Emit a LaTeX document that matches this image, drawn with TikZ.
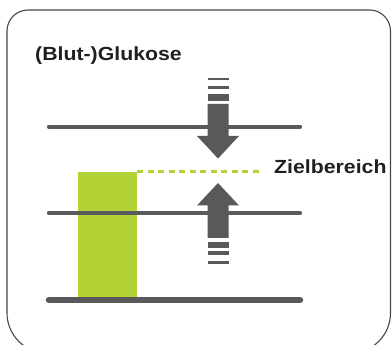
\documentclass[tikz,border=0pt]{standalone}
\usepackage{fontspec}
\setmainfont{Liberation Sans}
\usepackage{tikz}
\definecolor{slate}{HTML}{58595B}
\definecolor{lime}{HTML}{B2D235}
\definecolor{ink}{HTML}{231F20}
\newcommand{\wide}[1]{\scalebox{1.12}[1]{#1}}

\begin{document}
\begin{tikzpicture}[x=1pt,y=-1pt]
  \tikzstyle{frame}=[draw=slate!80!black,line width=1.1pt]
  \tikzstyle{levelline}=[draw=slate,line width=4.2pt,line cap=round]
  \tikzstyle{heading}=[font=\fontsize{19}{21}\selectfont\bfseries,text=ink,inner sep=0pt]
  \tikzstyle{targetline}=[draw=lime,line width=3pt,dash pattern=on 6pt off 4.5pt]
  \useasboundingbox (0,0) rectangle (392,345);
  \clip (0,0) rectangle (392,345);
  % frame: tighter corners on top, wider ones at the bottom
  \draw[frame] (7,200) [rounded corners=21pt] -- (7,10) -- (390.5,10) -- (390.5,200)
    [rounded corners=40pt] -- (390.5,353) -- (7,353) -- cycle;
  % bar and target range
  \node[fill=lime,minimum width=59pt,minimum height=128pt,inner sep=0pt,anchor=south west] (bar) at (78,300) {};
  \node[heading,anchor=base west] (title) at (35,61) {\wide{(Blut-)Glukose}};
  \node[heading,anchor=base west] (target) at (274,173.5) {\wide{Zielbereich}};
  \draw[targetline,shorten >=14pt] (bar.north east) -- (bar.north east -| target.west);
  % level lines
  \draw[levelline] (49,126.7) -- (300,126.7);
  \draw[levelline] (49,213) -- (300,213);
  \draw[levelline,line width=6.6pt] (49,300) -- (300,300);
  % arrows
  \fill[slate] (207.5,104) -- (228.5,104) -- (228.5,136) -- (239,136) -- (218,158.5)
    -- (197,136) -- (207.5,136) -- cycle;
  \fill[slate] (218,183) -- (239,205.5) -- (228.5,205.5) -- (228.5,238) -- (207.5,238)
    -- (207.5,205.5) -- (197,205.5) -- cycle;
  \foreach \ya/\yb in {78/80.5,86/89.5,94/101,242.5/248.5,251.5/255.5,261.5/264.5}
    \fill[slate] (207.5,\ya) rectangle (228.5,\yb);
\end{tikzpicture}
\end{document}
